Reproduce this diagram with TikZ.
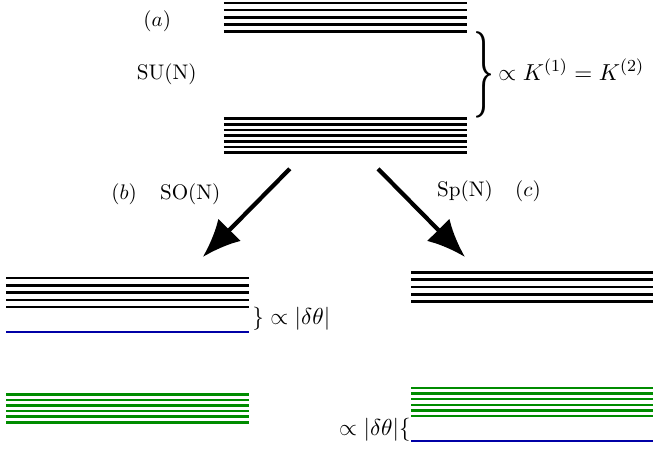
\documentclass[tikz,border=0pt]{standalone}
\usetikzlibrary{arrows.meta}
\definecolor{lvlblue}{rgb}{0,0,0.65}
\definecolor{lvlgreen}{rgb}{0,0.55,0}
\begin{document}
\begin{tikzpicture}[lvl/.style={line width=1.2pt},
    gaplabel/.style={inner sep=0pt,font=\fontsize{10.95}{13}\selectfont},
    split/.style={line width=2pt,-{Latex[length=18pt,width=15pt]}}]
    \useasboundingbox (0,0) rectangle (11,7.4833);
    % (a) SU(N)
    \foreach \k in {0,...,4} \draw[lvl] (3.73,7.43-0.117*\k) -- (7.78,7.43-0.117*\k);
    \foreach \k in {0,...,6} \draw[lvl] (3.73,5.505-0.0945*\k) -- (7.78,5.505-0.0945*\k);
    \node (a) at (2.62,7.13) {$(a)$};
    \node (su) at (2.78,6.25) {SU(N)};
    \node[inner sep=0pt] (kbrace) at (8.075,6.233) {\resizebox*{10pt}{41pt}{$\}$}};
    \node[gaplabel,anchor=base west] (kgap) at (8.3,6.15) {$\propto K^{(1)}=K^{(2)}$};
    % arrows
    \coordinate (sotop) at (4.83,4.67);
    \coordinate (sotip) at (3.38,3.2);
    \coordinate (sptop) at (6.3,4.67);
    \coordinate (sptip) at (7.75,3.2);
    \draw[split] (sotop) -- (sotip);
    \draw[split] (sptop) -- (sptip);
    \node (b) at (2.07,4.25) {$(b)$};
    \node (so) at (3.17,4.25) {SO(N)};
    \node (sp) at (7.75,4.3) {Sp(N)};
    \node (c) at (8.8,4.3) {$(c)$};
    % (b) SO(N)
    \foreach \k in {0,...,4} \draw[lvl] (0.1,2.85-0.121*\k) -- (4.155,2.85-0.121*\k);
    \draw[lvl,lvlblue] (0.1,1.95) -- (4.155,1.95);
    \foreach \k in {0,...,5} \draw[lvl,lvlgreen] (0.1,0.912-0.0933*\k) -- (4.155,0.912-0.0933*\k);
    \node[gaplabel,anchor=west] (sogap) at (4.2,2.167) {$\}\propto|\delta\theta|$};
    % (c) Sp(N)
    \foreach \k in {0,...,4} \draw[lvl] (6.85,2.945-0.1225*\k) -- (10.883,2.945-0.1225*\k);
    \foreach \k in {0,...,5} \draw[lvl,lvlgreen] (6.85,1.017-0.0933*\k) -- (10.883,1.017-0.0933*\k);
    \draw[lvl,lvlblue] (6.85,0.133) -- (10.883,0.133);
    \node[gaplabel,anchor=east] (spgap) at (6.85,0.317) {$\propto|\delta\theta|\{$};
\end{tikzpicture}
\end{document}
